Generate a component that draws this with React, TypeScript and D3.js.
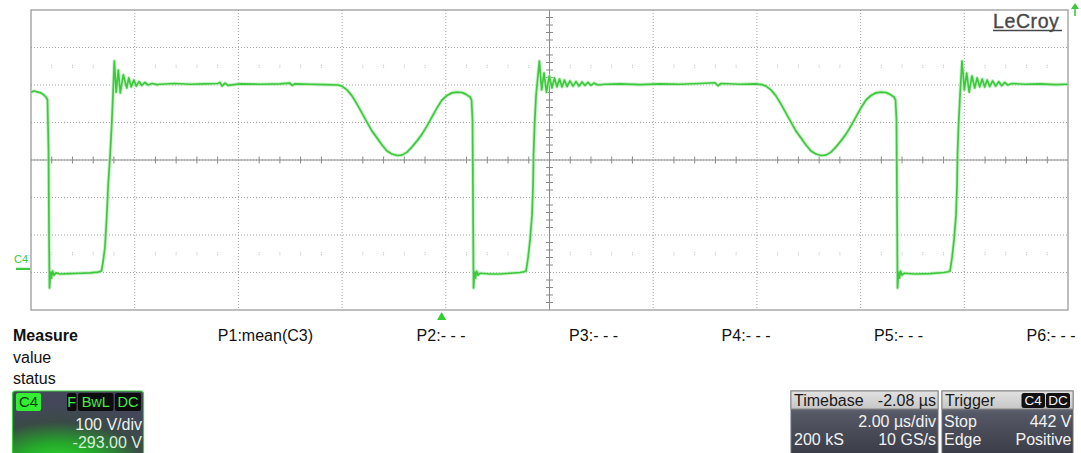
import React from "react";
import * as d3 from "d3";

// Scope screen geometry
const W = 1081;
const H = 453;
const PLOT = { left: 31, right: 1068, top: 10, bottom: 310 };
const H_DIVS = 10;
const V_DIVS = 8;
const MINOR = 5;

// Acquisition settings
const TIME_PER_DIV = 2; // µs/div
const VOLTS_PER_DIV = 100; // V/div
const CH_OFFSET = -293; // V
const H_DELAY = -2.08; // µs

// C4 trace: [time µs, volts]
const PULSE_A: [number, number][] = [
  [-7.92, 474], [-7.862, 477], [-7.785, 474], [-7.727, 472], [-7.669, 466], [-7.631, 461],
  [-7.602, 453], [-7.582, 320], [-7.573, 106], [-7.563, -48], [-7.544, -6], [-7.525, -22],
  [-7.505, -3], [-7.476, -14], [-7.438, -8], [-7.361, -11], [-7.168, -10], [-6.975, -9],
  [-6.782, -8], [-6.628, -6], [-6.56, -3], [-6.531, 21], [-6.493, 61], [-6.46, 141],
  [-6.429, 232], [-6.396, 301], [-6.364, 386], [-6.339, 466], [-6.313, 557], [-6.277, 474],
  [-6.236, 533], [-6.198, 472], [-6.14, 520], [-6.074, 485], [-6.034, 512], [-5.988, 488],
  [-5.937, 506], [-5.889, 490], [-5.837, 502], [-5.783, 492], [-5.721, 500], [-5.664, 493],
  [-5.586, 497], [-5.49, 494], [-5.432, 495], [-5.143, 497], [-4.854, 495], [-4.564, 496],
  [-4.314, 497], [-4.275, 500], [-4.236, 490], [-4.178, 498], [-4.121, 492], [-3.889, 496],
  [-3.504, 495], [-3.118, 496], [-2.925, 498], [-2.887, 492], [-2.829, 496], [-2.54, 495],
  [-2.25, 494], [-2.0, 493],
];

const PULSE_B: [number, number][] = [
  [-1.922, 490], [-1.826, 480], [-1.729, 464], [-1.633, 442], [-1.536, 418], [-1.44, 394],
  [-1.343, 370], [-1.247, 352], [-1.15, 333], [-1.054, 317], [-0.958, 309], [-0.861, 305],
  [-0.765, 306], [-0.668, 314], [-0.572, 328], [-0.475, 344], [-0.379, 362], [-0.282, 384],
  [-0.186, 408], [-0.09, 432], [0.007, 453], [0.103, 465], [0.2, 472], [0.296, 474],
  [0.393, 473], [0.47, 468], [0.547, 461], [0.576, 453], [0.595, 400], [0.605, 186],
  [0.615, -48], [0.634, -6], [0.653, -22], [0.673, -3], [0.702, -14], [0.74, -9],
  [0.933, -11], [1.126, -11], [1.319, -9], [1.512, -7], [1.589, -5], [1.628, -3],
  [1.666, 32], [1.705, 80], [1.743, 146], [1.763, 226], [1.772, 306], [1.792, 386],
  [1.821, 466], [1.884, 557], [1.929, 480], [1.974, 525], [2.022, 474], [2.076, 517],
  [2.128, 485], [2.176, 512], [2.224, 488], [2.273, 509], [2.321, 488], [2.369, 506],
  [2.417, 489], [2.475, 504], [2.533, 490], [2.591, 502], [2.649, 490], [2.707, 501],
  [2.764, 492], [2.822, 500], [2.88, 492], [2.938, 498], [3.015, 493], [3.15, 495],
  [3.44, 496], [3.825, 494], [4.211, 496], [4.597, 495], [4.982, 497], [5.272, 499],
  [5.33, 491], [5.387, 497], [5.754, 495], [6.043, 496], [6.178, 494],
];

const PULSE_C: [number, number][] = [
  [6.255, 490], [6.351, 480], [6.448, 464], [6.544, 442], [6.641, 418], [6.737, 394],
  [6.834, 370], [6.93, 352], [7.027, 333], [7.123, 317], [7.219, 309], [7.316, 305],
  [7.412, 306], [7.509, 314], [7.605, 328], [7.702, 344], [7.798, 362], [7.895, 384],
  [7.991, 408], [8.088, 432], [8.184, 453], [8.28, 465], [8.377, 472], [8.473, 474],
  [8.57, 473], [8.647, 468], [8.724, 461], [8.753, 453], [8.772, 400], [8.782, 186],
  [8.792, -48], [8.811, -6], [8.83, -22], [8.85, -3], [8.879, -14], [8.917, -9],
  [9.129, -11], [9.419, -10], [9.688, -7], [9.766, -5], [9.805, -3], [9.843, 32],
  [9.882, 80], [9.92, 146], [9.94, 226], [9.949, 306], [9.969, 386], [9.998, 466],
  [10.036, 557], [10.081, 480], [10.126, 525], [10.174, 474], [10.228, 517], [10.28, 485],
  [10.328, 512], [10.376, 488], [10.425, 509], [10.473, 488], [10.521, 506], [10.569, 489],
  [10.627, 504], [10.685, 490], [10.743, 502], [10.801, 491], [10.859, 500], [10.916, 493],
  [11.001, 497], [11.252, 495], [11.541, 496], [11.83, 494], [12.08, 495],
];

// Measurement row
const MEASURE_LABELS = ["P1:mean(C3)", "P2:- - -", "P3:- - -", "P4:- - -", "P5:- - -", "P6:- - -"];
const MEASURE_ROWS = ["value", "status"];

// Channel descriptor
const CH_NAME = "C4";
const CH_FLAGS = ["F", "BwL", "DC"];
const CH_SCALE = "100 V/div";
const CH_OFFSET_TEXT = "-293.00 V";

// Timebase / trigger descriptors
const TIMEBASE_ROWS = { title: "Timebase", delay: "-2.08 µs", scale: "2.00 µs/div", samples: "200 kS", rate: "10 GS/s" };
const TRIGGER_ROWS = { title: "Trigger", tags: ["C4", "DC"], mode: "Stop", level: "442 V", type: "Edge", slope: "Positive" };

const FONT = "'Liberation Sans', Arial, Helvetica, sans-serif";
const TRACE_COLOR = "#3ec83e";

export default function App() {
  const center = -H_DELAY;
  const x = d3
    .scaleLinear()
    .domain([center - (H_DIVS / 2) * TIME_PER_DIV, center + (H_DIVS / 2) * TIME_PER_DIV])
    .range([PLOT.left, PLOT.right]);
  const vCenter = -CH_OFFSET;
  const y = d3
    .scaleLinear()
    .domain([vCenter - (V_DIVS / 2) * VOLTS_PER_DIV, vCenter + (V_DIVS / 2) * VOLTS_PER_DIV])
    .range([PLOT.bottom, PLOT.top]);

  const [t0] = x.domain();
  const [v0] = y.domain();
  const majorT = d3.range(0, H_DIVS + 1).map((i) => t0 + i * TIME_PER_DIV);
  const majorV = d3.range(0, V_DIVS + 1).map((i) => v0 + i * VOLTS_PER_DIV);
  const minorT = d3
    .range(0, H_DIVS * MINOR + 1)
    .filter((i) => i % MINOR !== 0)
    .map((i) => t0 + (i * TIME_PER_DIV) / MINOR);
  const minorV = d3
    .range(0, V_DIVS * MINOR + 1)
    .filter((i) => i % MINOR !== 0)
    .map((i) => v0 + (i * VOLTS_PER_DIV) / MINOR);
  const dotRowsV = [vCenter + 2.5 * VOLTS_PER_DIV, vCenter - 2.5 * VOLTS_PER_DIV];

  const trace = [...PULSE_A, ...PULSE_B, ...PULSE_C];
  const line = d3
    .line<[number, number]>()
    .x((d) => x(d[0]))
    .y((d) => y(d[1]));
  const tracePath = line(trace) ?? "";

  const cx = x(center);
  const cy = y(vCenter);
  const trigX = x(0);
  const gndY = y(0);

  // Measurement columns are right-aligned
  const measureRight = d3.range(MEASURE_LABELS.length).map((i) => 313 + i * 152.5);

  return (
    <svg
      width={W}
      height={H}
      viewBox={`0 0 ${W} ${H}`}
      style={{ position: "absolute", left: 0, top: 0, background: "#fff", fontFamily: FONT }}
    >
      <defs>
        <clipPath id="plotClip">
          <rect x={PLOT.left} y={PLOT.top - 4} width={PLOT.right - PLOT.left} height={PLOT.bottom - PLOT.top + 8} />
        </clipPath>
        <radialGradient id="chGrad" cx="0.35" cy="1.15" r="0.95">
          <stop offset="0" stopColor="#2ee02e" />
          <stop offset="0.35" stopColor="#25a82a" />
          <stop offset="0.7" stopColor="#3a4a46" />
          <stop offset="1" stopColor="#44475a" />
        </radialGradient>
        <linearGradient id="bodyGrad" x1="0" y1="0" x2="0" y2="1">
          <stop offset="0" stopColor="#8c8f9b" />
          <stop offset="0.35" stopColor="#555865" />
          <stop offset="1" stopColor="#3a3c46" />
        </linearGradient>
        <linearGradient id="headGrad" x1="0" y1="0" x2="0" y2="1">
          <stop offset="0" stopColor="#e2e2e2" />
          <stop offset="1" stopColor="#c6c6c6" />
        </linearGradient>
      </defs>

      {/* dotted graticule */}
      <g stroke="#a4a4a4" strokeWidth={1} strokeDasharray="1 2">
        {majorT.slice(1, -1).map((t) => (
          <line key={`gx${t}`} x1={x(t)} x2={x(t)} y1={PLOT.top} y2={PLOT.bottom} />
        ))}
        {majorV.slice(1, -1).map((v) => (
          <line key={`gy${v}`} x1={PLOT.left} x2={PLOT.right} y1={y(v)} y2={y(v)} />
        ))}
      </g>

      {/* sub-division dot rows */}
      <g stroke="#bcbcbc" strokeWidth={1}>
        {dotRowsV.map((v) =>
          minorT.map((t) => (
            <line key={`d${v}-${t}`} x1={x(t)} x2={x(t)} y1={y(v) - 1.5} y2={y(v) + 1.5} strokeDasharray="1 1" />
          ))
        )}
      </g>

      {/* center cross with ticks */}
      <g stroke="#8a8a8a" strokeWidth={1}>
        <line x1={PLOT.left} x2={PLOT.right} y1={cy} y2={cy} />
        <line x1={cx} x2={cx} y1={PLOT.top} y2={PLOT.bottom} />
        {minorT.map((t) => (
          <line key={`tx${t}`} x1={x(t)} x2={x(t)} y1={cy - 3.5} y2={cy + 3.5} />
        ))}
        {minorV.map((v) => (
          <line key={`ty${v}`} x1={cx - 3.5} x2={cx + 3.5} y1={y(v)} y2={y(v)} />
        ))}
      </g>

      {/* frame */}
      <rect
        x={PLOT.left}
        y={PLOT.top}
        width={PLOT.right - PLOT.left}
        height={PLOT.bottom - PLOT.top}
        fill="none"
        stroke="#9c9c9c"
        strokeWidth={1.3}
      />

      {/* C4 trace */}
      <g clipPath="url(#plotClip)" fill="none" strokeLinejoin="round">
        <path d={tracePath} stroke="#b4ecb4" strokeWidth={3.6} opacity={0.7} />
        <path d={tracePath} stroke={TRACE_COLOR} strokeWidth={1.7} />
      </g>

      {/* channel ground marker */}
      <text x={14} y={263} fontSize={11} fill={TRACE_COLOR}>
        {CH_NAME}
      </text>
      <line x1={16} x2={30} y1={gndY - 1} y2={gndY - 1} stroke={TRACE_COLOR} strokeWidth={2.2} />

      {/* brand */}
      <text x={993} y={28} fontSize={19.5} fill="#474747" stroke="#474747" strokeWidth={0.35} letterSpacing={0.6}>
        LeCroy
      </text>
      <line x1={993} x2={1062} y1={30.5} y2={30.5} stroke="#474747" strokeWidth={1.5} />

      {/* trigger level arrow */}
      <g fill={TRACE_COLOR} stroke={TRACE_COLOR}>
        <path d="M1071,9 L1079,9 L1075,3 Z" stroke="none" />
        <line x1={1075} x2={1075} y1={8} y2={16} strokeWidth={1.6} />
      </g>

      {/* trigger position marker */}
      <path d={`M${trigX - 4.5},${320} L${trigX + 4.5},${320} L${trigX},${312} Z`} fill="#2ecf2e" />

      {/* measurement table */}
      <text x={13} y={341} fontSize={16} fontWeight="bold" fill="#111">
        Measure
      </text>
      {MEASURE_ROWS.map((r, i) => (
        <text key={r} x={13} y={362.5 + i * 21.5} fontSize={16} fill="#111">
          {r}
        </text>
      ))}
      {MEASURE_LABELS.map((m, i) => (
        <text key={m + i} x={measureRight[i]} y={341} fontSize={16} fill="#111" textAnchor="end">
          {m}
        </text>
      ))}

      {/* channel descriptor box */}
      <g>
        <rect x={12.5} y={391} width={131} height={64} rx={3} fill="url(#chGrad)" stroke="#3bd03b" strokeWidth={1.2} />
        <rect x={16} y={393} width={25} height={18} rx={2} fill="#33ee33" />
        <text x={28.5} y={407} fontSize={15} fill="#0a3a0a" textAnchor="middle">
          {CH_NAME}
        </text>
        {(() => {
          const boxes = [
            { x: 67, w: 9.5 },
            { x: 78, w: 35.5 },
            { x: 115, w: 26 },
          ];
          return CH_FLAGS.map((f, i) => (
            <g key={f}>
              <rect x={boxes[i].x} y={393} width={boxes[i].w} height={18} rx={2} fill="#0c0c0c" />
              <text x={boxes[i].x + boxes[i].w / 2} y={407} fontSize={14.5} fill="#4be84b" textAnchor="middle">
                {f}
              </text>
            </g>
          ));
        })()}
        <text x={142} y={430} fontSize={16} fill="#eef2ee" textAnchor="end">
          {CH_SCALE}
        </text>
        <text x={142} y={448} fontSize={16} fill="#d8f0d8" textAnchor="end">
          {CH_OFFSET_TEXT}
        </text>
      </g>

      {/* timebase box */}
      <g>
        <rect x={791} y={391} width={147} height={64} fill="url(#bodyGrad)" stroke="#6c6e78" />
        <rect x={791} y={391} width={147} height={18} fill="url(#headGrad)" stroke="#888" />
        <text x={794} y={405.5} fontSize={16} fill="#1a1a1a">
          {TIMEBASE_ROWS.title}
        </text>
        <text x={936} y={405.5} fontSize={16} fill="#1a1a1a" textAnchor="end">
          {TIMEBASE_ROWS.delay}
        </text>
        <text x={936} y={426.5} fontSize={16} fill="#f2f2f2" textAnchor="end">
          {TIMEBASE_ROWS.scale}
        </text>
        <text x={794} y={445} fontSize={16} fill="#f2f2f2">
          {TIMEBASE_ROWS.samples}
        </text>
        <text x={936} y={445} fontSize={16} fill="#f2f2f2" textAnchor="end">
          {TIMEBASE_ROWS.rate}
        </text>
      </g>

      {/* trigger box */}
      <g>
        <rect x={942} y={391} width={131} height={64} fill="url(#bodyGrad)" stroke="#6c6e78" />
        <rect x={942} y={391} width={131} height={18} fill="url(#headGrad)" stroke="#888" />
        <text x={945} y={405.5} fontSize={16} fill="#1a1a1a">
          {TRIGGER_ROWS.title}
        </text>
        {TRIGGER_ROWS.tags.map((tg, i) => {
          const bx = i === 0 ? 1021.5 : 1046;
          const bw = i === 0 ? 23.5 : 24;
          return (
            <g key={tg}>
              <rect x={bx} y={393} width={bw} height={15} rx={2.5} fill="#111" />
              <text x={bx + bw / 2} y={405} fontSize={13.5} fill="#f4f4f4" textAnchor="middle">
                {tg}
              </text>
            </g>
          );
        })}
        <text x={944} y={426.5} fontSize={16} fill="#f2f2f2">
          {TRIGGER_ROWS.mode}
        </text>
        <text x={1071.5} y={426.5} fontSize={16} fill="#f2f2f2" textAnchor="end">
          {TRIGGER_ROWS.level}
        </text>
        <text x={944} y={445} fontSize={16} fill="#f2f2f2">
          {TRIGGER_ROWS.type}
        </text>
        <text x={1071.5} y={445} fontSize={16} fill="#f2f2f2" textAnchor="end">
          {TRIGGER_ROWS.slope}
        </text>
      </g>
    </svg>
  );
}
